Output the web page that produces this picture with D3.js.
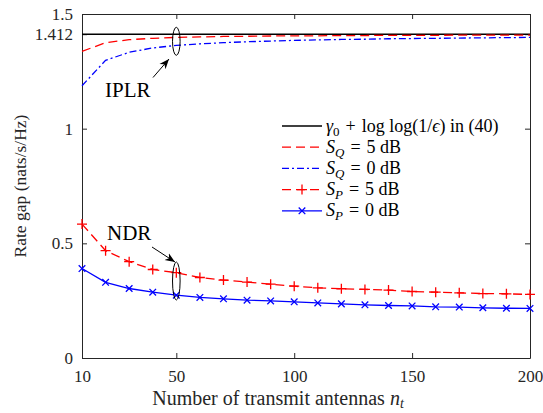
<!DOCTYPE html>
<html>
<head>
<meta charset="utf-8">
<script src="https://cdn.jsdelivr.net/npm/d3@7.9.0/dist/d3.min.js"></script>
<style>
  body { margin: 0; background: #fff; }
</style>
</head>
<body>
<svg id="chart" width="543" height="413" font-family="Liberation Serif, DejaVu Serif, serif"></svg>
<script>
// ---- data ----
const nt = [10, 20, 30, 40, 50, 60, 70, 80, 90, 100, 110, 120, 130, 140, 150, 160, 170, 180, 190, 200];
const bound = 1.412;
const sq5 = [1.337, 1.375, 1.388, 1.394, 1.398, 1.400, 1.402, 1.403, 1.404, 1.405, 1.405, 1.406, 1.406, 1.407, 1.407, 1.407, 1.408, 1.408, 1.408, 1.408];
const sq0 = [1.187, 1.298, 1.333, 1.352, 1.363, 1.370, 1.375, 1.379, 1.382, 1.385, 1.387, 1.389, 1.390, 1.392, 1.393, 1.394, 1.395, 1.396, 1.397, 1.398];
const sp5 = [0.584, 0.468, 0.420, 0.386, 0.372, 0.351, 0.340, 0.331, 0.322, 0.313, 0.306, 0.302, 0.299, 0.296, 0.290, 0.287, 0.284, 0.281, 0.280, 0.277];
const sp0 = [0.390, 0.330, 0.303, 0.287, 0.274, 0.264, 0.258, 0.252, 0.249, 0.245, 0.240, 0.236, 0.232, 0.229, 0.227, 0.223, 0.222, 0.219, 0.217, 0.216];
const xTicks = [10, 50, 100, 150, 200];
const yTicks = [0, 0.5, 1, 1.412, 1.5];

const serif = "'Liberation Serif', 'DejaVu Serif', serif";
const margin = { left: 82, right: 13, top: 14, bottom: 55 };
const W = 543, H = 413;
const svg = d3.select('#chart');

const x = d3.scaleLinear().domain([10, 200]).range([margin.left, W - margin.right]);
const y = d3.scaleLinear().domain([0, 1.5]).range([H - margin.bottom, margin.top]);

const axisColor = '#262626';

// axes box with inward ticks on all sides
const tickLen = 5;
function styleAxis(g) {
  g.attr('font-family', null).attr('font-size', null);
  g.select('.domain').attr('stroke', axisColor).attr('stroke-width', 1);
  g.selectAll('.tick line').attr('stroke', axisColor).attr('stroke-width', 1);
  g.selectAll('.tick text').attr('font-size', 17).attr('fill', axisColor)
    .style('font-family', serif);
}

svg.append('g')
  .attr('transform', `translate(0,${y(0)})`)
  .call(d3.axisBottom(x).tickValues(xTicks).tickSize(-tickLen).tickPadding(12).tickSizeOuter(0))
  .call(styleAxis);
svg.append('g')
  .attr('transform', `translate(0,${y(1.5)})`)
  .call(d3.axisTop(x).tickValues(xTicks).tickSize(-tickLen).tickFormat('').tickSizeOuter(0))
  .call(styleAxis);
svg.append('g')
  .attr('transform', `translate(${x(10)},0)`)
  .call(d3.axisLeft(y).tickValues(yTicks).tickSize(-tickLen).tickPadding(9).tickSizeOuter(0)
    .tickFormat(d => d === 1.412 ? '1.412' : d3.format('~g')(d)))
  .call(styleAxis);
svg.append('g')
  .attr('transform', `translate(${x(200)},0)`)
  .call(d3.axisRight(y).tickValues(yTicks).tickSize(-tickLen).tickFormat('').tickSizeOuter(0))
  .call(styleAxis);

// axis labels
svg.append('text')
  .attr('x', 278).attr('y', 405)
  .attr('text-anchor', 'middle').attr('font-size', 20).attr('fill', axisColor)
  .style('font-family', serif)
  .text('Number of transmit antennas ')
  .append('tspan').attr('font-style', 'italic').text('n')
  .append('tspan').attr('font-size', 14).attr('dy', 3).text('t');

svg.append('text')
  .attr('transform', `translate(26,${(y(0) + y(1.5)) / 2}) rotate(-90)`)
  .attr('text-anchor', 'middle').attr('font-size', 17.5).attr('fill', axisColor)
  .style('font-family', serif)
  .text('Rate gap (nats/s/Hz)');

// series
const line = d3.line().x(d => x(d[0])).y(d => y(d[1]));
const zip = vals => nt.map((n, i) => [n, vals[i]]);

const series = [
  { name: 'bound', data: [[10, bound], [200, bound]], color: '#000', dash: null, marker: null },
  { name: 'sq5', data: zip(sq5), color: '#ff0000', dash: '9,5', marker: null },
  { name: 'sq0', data: zip(sq0), color: '#0000ff', dash: '7,3,2,3', marker: null },
  { name: 'sp5', data: zip(sp5), color: '#ff0000', dash: '9,5', marker: 'plus' },
  { name: 'sp0', data: zip(sp0), color: '#0000ff', dash: null, marker: 'cross' }
];

function drawMarker(g, type, cx, cy, color) {
  if (type === 'plus') {
    const s = 5;
    g.append('path').attr('d', `M${cx - s},${cy}H${cx + s}M${cx},${cy - s}V${cy + s}`)
      .attr('stroke', color).attr('stroke-width', 1.3).attr('fill', 'none');
  } else if (type === 'cross') {
    const s = 3.3;
    g.append('path').attr('d', `M${cx - s},${cy - s}L${cx + s},${cy + s}M${cx - s},${cy + s}L${cx + s},${cy - s}`)
      .attr('stroke', color).attr('stroke-width', 1.3).attr('fill', 'none');
  }
}

const plot = svg.append('g');
series.forEach(s => {
  plot.append('path')
    .datum(s.data)
    .attr('d', line)
    .attr('fill', 'none')
    .attr('stroke', s.color)
    .attr('stroke-width', s.name === 'bound' ? 1.4 : 1.3)
    .attr('stroke-dasharray', s.dash);
  if (s.marker) {
    s.data.forEach(d => drawMarker(plot, s.marker, x(d[0]), y(d[1]), s.color));
  }
});

// annotations: ellipses + arrows
const ann = svg.append('g');
ann.append('ellipse').attr('cx', x(50)).attr('cy', 41.3).attr('rx', 3.8).attr('ry', 14)
  .attr('fill', 'none').attr('stroke', '#000').attr('stroke-width', 1);
ann.append('ellipse').attr('cx', x(50)).attr('cy', 281).attr('rx', 3.8).attr('ry', 19)
  .attr('fill', 'none').attr('stroke', '#000').attr('stroke-width', 1);

svg.append('defs').append('marker')
  .attr('id', 'head').attr('viewBox', '0 0 10 10').attr('refX', 10).attr('refY', 5)
  .attr('markerWidth', 10).attr('markerHeight', 10).attr('markerUnits', 'userSpaceOnUse')
  .attr('orient', 'auto')
  .append('path').attr('d', 'M0,1 L10,5 L0,9 L3,5 Z').attr('fill', '#000');

ann.append('line').attr('x1', 153).attr('y1', 77.5).attr('x2', 169).attr('y2', 59)
  .attr('stroke', '#000').attr('stroke-width', 1).attr('marker-end', 'url(#head)');
ann.append('line').attr('x1', 152).attr('y1', 247).attr('x2', 175).attr('y2', 262)
  .attr('stroke', '#000').attr('stroke-width', 1).attr('marker-end', 'url(#head)');

ann.append('text').attr('x', 105).attr('y', 97).attr('font-size', 21).attr('fill', '#000')
  .style('font-family', serif).text('IPLR');
ann.append('text').attr('x', 107).attr('y', 240).attr('font-size', 21).attr('fill', '#000')
  .style('font-family', serif).text('NDR');

// legend
const sp = '\u2004';
const legendRows = [
  { s: series[0], label: [['γ', 'i'], ['0', 'sub'], [`${sp}+${sp}log log(1/`, ''], ['ϵ', 'i'], [') in (40)', '']] },
  { s: series[1], label: [['S', 'i'], ['Q', 'isub'], [`${sp}=${sp}5 dB`, '']] },
  { s: series[2], label: [['S', 'i'], ['Q', 'isub'], [`${sp}=${sp}0 dB`, '']] },
  { s: series[3], label: [['S', 'i'], ['P', 'isub'], [`${sp}=${sp}5 dB`, '']] },
  { s: series[4], label: [['S', 'i'], ['P', 'isub'], [`${sp}=${sp}0 dB`, '']] }
];
const leg = svg.append('g');
const lx0 = 282, lx1 = 322, ly0 = 126, lstep = 21.2;
legendRows.forEach((r, i) => {
  const yy = ly0 + i * lstep;
  leg.append('line').attr('x1', lx0).attr('x2', lx1).attr('y1', yy).attr('y2', yy)
    .attr('stroke', r.s.color).attr('stroke-width', 1.3).attr('stroke-dasharray', r.s.dash);
  if (r.s.marker) drawMarker(leg, r.s.marker, (lx0 + lx1) / 2, yy, r.s.color);
  const t = leg.append('text').attr('x', 326).attr('y', yy + 5.5).attr('font-size', 18)
    .attr('fill', '#000').style('font-family', serif);
  let shifted = false;
  r.label.forEach(([txt, kind]) => {
    const ts = t.append('tspan').text(txt);
    if (kind === 'i' || kind === 'isub') ts.attr('font-style', 'italic');
    if (kind === 'sub' || kind === 'isub') {
      ts.attr('font-size', 13).attr('dy', 4);
      shifted = true;
    } else if (shifted) {
      ts.attr('dy', -4);
      shifted = false;
    }
  });
});
</script>
</body>
</html>
